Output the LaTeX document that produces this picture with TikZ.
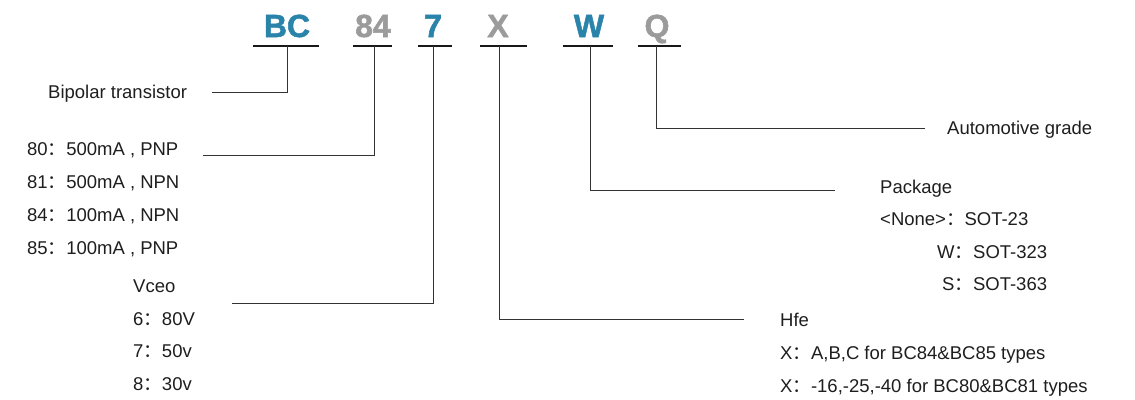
\documentclass[tikz,border=0pt]{standalone}
\usepackage{fontspec}
\setmainfont{Liberation Sans}
\newfontfamily\cjk{Noto Sans CJK SC}
\newfontfamily\heavyf[FakeBold=1.6]{Liberation Sans Bold}
\definecolor{pnblue}{RGB}{42,132,170}
\definecolor{pngray}{RGB}{155,155,155}
\definecolor{txtc}{RGB}{30,30,30}
\newcommand{\fc}{{\cjk ：}}
\begin{document}
\begin{tikzpicture}[x=1pt,y=-1pt,
  code/.style={font=\fontsize{32}{32}\heavyf, inner sep=0, anchor=base},
  lbl/.style={font=\fontsize{18.5}{20}\selectfont, text=txtc, inner sep=0, anchor=base west},
  ln/.style={line width=1pt, draw=black!80},
  ul/.style={line width=2pt, draw=black!90}]
\useasboundingbox (0,0) rectangle (1135,399);

% code letters
\node[code,text=pnblue] (bc) at (287,37) {BC};
\node[code,text=pngray] (n84) at (373,37) {84};
\node[code,text=pnblue] (n7) at (433,37) {7};
\node[code,text=pngray] (nx) at (498,37) {X};
\node[code,text=pnblue] (nw) at (589,37) {W};
\node[code,text=pngray] (nq) at (657,37) {Q};

% underlines
\draw[ul] (253,46) -- (319,46);
\draw[ul] (353,46) -- (392,46);
\draw[ul] (418,46) -- (452,46);
\draw[ul] (480,46) -- (527,46);
\draw[ul] (563,46) -- (613,46);
\draw[ul] (638,46) -- (681,46);

% tick points
\coordinate (tbc) at (287,46);
\coordinate (t84) at (374,46);
\coordinate (t7) at (433,46);
\coordinate (tx) at (499,46);
\coordinate (tw) at (590,46);
\coordinate (tq) at (656,46);

% connector ends
\coordinate (ebc) at (212,92);
\coordinate (e84) at (203,155);
\coordinate (e7) at (232,303);
\coordinate (ex) at (744,319);
\coordinate (ew) at (835,190);
\coordinate (eq) at (925,128);

% labels left
\node[lbl] (bip) at (48,98) {Bipolar transistor};
\node[lbl] (l80) at (27,155) {80\fc 500mA , PNP};
\node[lbl] (l81) at (27,188) {81\fc 500mA , NPN};
\node[lbl] (l84) at (27,221) {84\fc 100mA , NPN};
\node[lbl] (l85) at (27,254) {85\fc 100mA , PNP};
\node[lbl] (vce) at (133,292) {Vceo};
\node[lbl] (v6) at (133,325) {6\fc 80V};
\node[lbl] (v7) at (133,357) {7\fc 50v};
\node[lbl] (v8) at (133,390) {8\fc 30v};

% labels right
\node[lbl] (auto) at (947,134) {Automotive grade};
\node[lbl] (pkg) at (880,193) {Package};
\node[lbl] (pn) at (880,225) {<None>\fc SOT-23};
\node[lbl] (pwl) at (937,258) {W\fc SOT-323};
\node[lbl] (psl) at (942,290) {S\fc SOT-363};
\node[lbl] (hfe) at (780,326) {Hfe};
\node[lbl] (h1) at (780,359) {X\fc A,B,C for BC84\&BC85 types};
\node[lbl] (h2) at (780,392) {X\fc -16,-25,-40 for BC80\&BC81 types};

% connectors
\draw[ln] (tbc) |- (ebc);
\draw[ln] (t84) |- (e84);
\draw[ln] (t7) |- (e7);
\draw[ln] (tx) |- (ex);
\draw[ln] (tw) |- (ew);
\draw[ln] (tq) |- (eq);
\end{tikzpicture}
\end{document}
